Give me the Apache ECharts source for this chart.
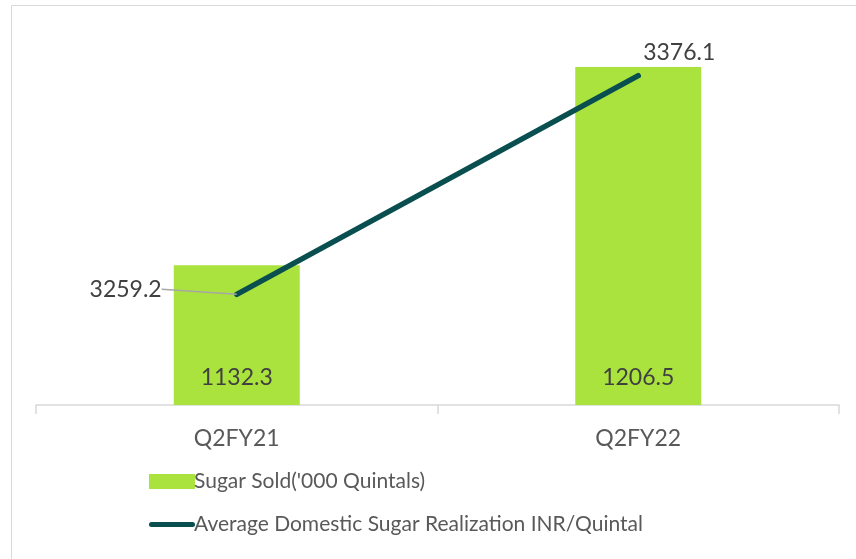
<!DOCTYPE html>
<html>
<head>
<meta charset="utf-8">
<script src="https://cdn.jsdelivr.net/npm/echarts@6/dist/echarts.min.js"></script>
<style>
  html, body { margin: 0; padding: 0; background: #fff; }
  #chart { width: 856px; height: 559px; }
</style>
</head>
<body>
<div id="chart"></div>
<script>
// data
const quarters = ['Q2FY21', 'Q2FY22']
const sugarSold = [1132.3, 1206.5]
const realization = [3259.2, 3376.1]

const barName = "Sugar Sold('000 Quintals)"
const lineName = 'Average Domestic Sugar Realization INR/Quintal'

const lineColor = '#0a4f4f'
const myChart = echarts.init(document.getElementById('chart'))

const option = {
  animation: false,
  textStyle: { fontFamily: 'Lato' },
  graphic: [{
    type: 'rect',
    left: 9,
    top: 3,
    shape: { width: 900, height: 600 },
    style: { fill: 'none', stroke: '#d9d9d9', lineWidth: 1 },
    silent: true
  }],
  grid: {
    left: 36,
    right: 17,
    top: 31,
    bottom: 154
  },
  legend: {
    orient: 'vertical',
    left: 144,
    top: 466,
    itemWidth: 46,
    itemHeight: 15,
    itemGap: 22,
    textStyle: { color: '#595959', fontSize: 21, padding: [0, 0, 0, -6] },
    data: [
      { name: barName, icon: 'rect' },
      {
        name: lineName,
        icon: 'path://M2.5,0 L43.5,0 A2.5,2.5 0 0 1 43.5,5 L2.5,5 A2.5,2.5 0 0 1 2.5,0 Z',
        itemStyle: { color: lineColor }
      }
    ]
  },
  xAxis: {
    type: 'category',
    data: quarters,
    axisLine: { lineStyle: { color: '#d9d9d9', width: 1.5 } },
    axisTick: { show: true, length: 9, lineStyle: { color: '#d9d9d9', width: 1.5 } },
    axisLabel: { color: '#595959', fontSize: 23, margin: 22 }
  },
  yAxis: [
    { type: 'value', min: 1080, max: 1220, show: false, splitLine: { show: false } },
    { type: 'value', min: 3200, max: 3400, show: false, splitLine: { show: false } }
  ],
  series: [
    {
      name: barName,
      type: 'bar',
      yAxisIndex: 0,
      barWidth: 126,
      data: sugarSold,
      itemStyle: { color: '#abe33e' },
      label: {
        show: true,
        position: 'insideBottom',
        distance: 16,
        color: '#404040',
        fontSize: 23,
        formatter: p => p.value.toFixed(1)
      }
    },
    {
      name: lineName,
      type: 'line',
      yAxisIndex: 1,
      symbol: 'circle',
      symbolSize: 0.1,
      data: realization.map((v, i) => i === 1
        ? { value: v, label: { position: 'top' } }
        : { value: v, label: { position: 'left' }, labelLine: { show: true } }),
      lineStyle: { color: lineColor, width: 5.5, cap: 'round' },
      itemStyle: { color: lineColor },
      label: {
        show: true,
        color: '#404040',
        fontSize: 23,
        formatter: p => p.value.toFixed(1)
      },
      labelLine: { show: false, lineStyle: { color: '#a6a6a6', width: 1.5 } },
      labelLayout: params => params.dataIndex === 0 ? { dx: -70, dy: -5 } : { dx: 41, dy: -7 }
    }
  ]
}

myChart.setOption(option)
</script>
</body>
</html>
